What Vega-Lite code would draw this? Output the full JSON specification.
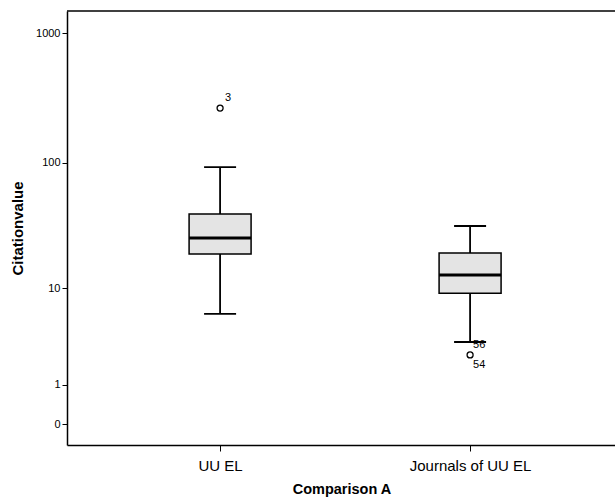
{
  "$schema": "https://vega.github.io/schema/vega-lite/v6.json",
  "width": 549,
  "height": 434,
  "autosize": "none",
  "padding": {"left": 67, "top": 11, "right": 0, "bottom": 56},
  "background": "white",
  "config": {
    "view": {"stroke": "transparent", "strokeWidth": 0, "strokeOpacity": 0},
    "font": "Liberation Sans",
    "axis": {"grid": false, "domainColor": "black", "tickColor": "black", "labelColor": "black", "titleColor": "black", "labelFont": "Liberation Sans", "titleFont": "Liberation Sans"}
  },
  "datasets": {
    "boxes": [
      {"group": "UU EL", "lower": 6.0, "q1": 19.2, "median": 25.8, "q3": 39.9, "upper": 92.8},
      {"group": "Journals of UU EL", "lower": 3.26, "q1": 9.1, "median": 12.9, "q3": 19.5, "upper": 32.1}
    ],
    "outliers": [
      {"group": "UU EL", "value": 265, "case": "3"},
      {"group": "Journals of UU EL", "value": 2.39, "case": "54"}
    ],
    "caseLabels": [
      {"group": "UU EL", "value": 265, "case": "3", "pos": "above"},
      {"group": "Journals of UU EL", "value": 3.8, "case": "56", "pos": "below"},
      {"group": "Journals of UU EL", "value": 2.39, "case": "54", "pos": "below"}
    ],
    "frame": [{"top": 1478}]
  },
  "layer": [
    {
      "data": {"name": "boxes"},
      "mark": {"type": "rule", "color": "black", "strokeWidth": 1.8},
      "encoding": {
        "x": {"field": "group", "type": "nominal", "sort": ["UU EL", "Journals of UU EL"],
          "scale": {"type": "point", "padding": 0.598, "align": 0.512},
          "axis": {"title": "Comparison A", "labelAngle": 0, "labelFontSize": 15, "titleFontSize": 14.5, "titleFontWeight": "bold", "tickSize": 6, "domainWidth": 1.5, "labelPadding": 7, "titlePadding": 9}},
        "y": {"field": "lower", "type": "quantitative",
          "scale": {"type": "symlog", "domain": [-0.449, 1478], "nice": false, "zero": false},
          "axis": {"title": "Citationvalue", "values": [0, 1, 10, 100, 1000], "format": "d", "labelFontSize": 11, "titleFontSize": 15, "titleFontWeight": "bold", "tickSize": 5, "domainWidth": 1.5, "labelPadding": 2, "titlePadding": 10}},
        "y2": {"field": "upper"}
      }
    },
    {
      "data": {"name": "frame"},
      "mark": {"type": "rule", "color": "black", "strokeWidth": 1.5},
      "encoding": {"y": {"field": "top", "type": "quantitative"}}
    },
    {
      "data": {"name": "boxes"},
      "mark": {"type": "tick", "color": "black", "opacity": 1, "thickness": 1.8, "size": 32, "orient": "horizontal"},
      "encoding": {
        "x": {"field": "group", "type": "nominal", "sort": ["UU EL", "Journals of UU EL"]},
        "y": {"field": "upper", "type": "quantitative"}
      }
    },
    {
      "data": {"name": "boxes"},
      "mark": {"type": "tick", "color": "black", "opacity": 1, "thickness": 1.8, "size": 32, "orient": "horizontal"},
      "encoding": {
        "x": {"field": "group", "type": "nominal", "sort": ["UU EL", "Journals of UU EL"]},
        "y": {"field": "lower", "type": "quantitative"}
      }
    },
    {
      "data": {"name": "boxes"},
      "mark": {"type": "bar", "size": 62, "fill": "#e4e4e4", "opacity": 1, "stroke": "black", "strokeWidth": 1.5},
      "encoding": {
        "x": {"field": "group", "type": "nominal", "sort": ["UU EL", "Journals of UU EL"]},
        "y": {"field": "q1", "type": "quantitative"},
        "y2": {"field": "q3"}
      }
    },
    {
      "data": {"name": "boxes"},
      "mark": {"type": "tick", "color": "black", "opacity": 1, "thickness": 3, "size": 62, "orient": "horizontal"},
      "encoding": {
        "x": {"field": "group", "type": "nominal", "sort": ["UU EL", "Journals of UU EL"]},
        "y": {"field": "median", "type": "quantitative"}
      }
    },
    {
      "data": {"name": "outliers"},
      "mark": {"type": "point", "shape": "circle", "filled": false, "opacity": 1, "stroke": "black", "strokeWidth": 1.3, "size": 36},
      "encoding": {
        "x": {"field": "group", "type": "nominal", "sort": ["UU EL", "Journals of UU EL"]},
        "y": {"field": "value", "type": "quantitative"}
      }
    },
    {
      "data": {"name": "caseLabels"},
      "transform": [{"filter": "datum.pos === 'above'"}],
      "mark": {"type": "text", "align": "left", "dx": 5, "dy": -10, "fontSize": 11, "fill": "black"},
      "encoding": {
        "x": {"field": "group", "type": "nominal", "sort": ["UU EL", "Journals of UU EL"]},
        "y": {"field": "value", "type": "quantitative"},
        "text": {"field": "case"}
      }
    },
    {
      "data": {"name": "caseLabels"},
      "transform": [{"filter": "datum.pos === 'below'"}],
      "mark": {"type": "text", "align": "left", "dx": 3, "dy": 10, "fontSize": 11, "fill": "black"},
      "encoding": {
        "x": {"field": "group", "type": "nominal", "sort": ["UU EL", "Journals of UU EL"]},
        "y": {"field": "value", "type": "quantitative"},
        "text": {"field": "case"}
      }
    }
  ]
}
